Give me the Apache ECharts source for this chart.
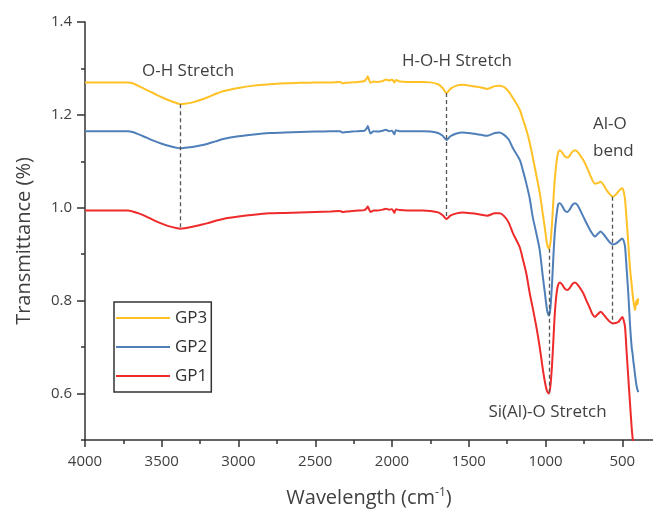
<!DOCTYPE html>
<html>
<head>
<meta charset="utf-8">
<script src="https://cdn.jsdelivr.net/npm/echarts@6/dist/echarts.min.js"></script>
<style>html,body{margin:0;padding:0;background:#fff}#c{width:653px;height:509px}</style>
</head>
<body>
<div id="c"></div>
<script>
// ---- data ----
const wavenumbers = [4000,3900,3800,3720,3690,3650,3600,3550,3500,3450,3400,3380,3350,3300,3250,3200,3150,3100,3000,2900,2800,2700,2600,2500,2400,2340,2320,2300,2260,2220,2180,2165,2158,2150,2140,2120,2100,2060,2040,2020,2000,1985,1975,1950,1900,1800,1750,1700,1670,1645,1620,1580,1540,1480,1420,1380,1330,1300,1270,1240,1212,1168,1147,1125,1103,1084,1060,1038,1017,1004,990,978,968,958,950,940,928,917,906,890,875,858,843,825,808,790,754,732,710,693,678,662,641,622,602,583,563,543,526,508,500,491,482,472,461,450,439,433,428,422,417,411,406,401,396];
const gp3 = [1.270,1.270,1.270,1.270,1.268,1.262,1.254,1.246,1.238,1.231,1.225,1.223,1.224,1.227,1.232,1.238,1.245,1.251,1.258,1.263,1.266,1.268,1.269,1.270,1.270,1.271,1.268,1.269,1.270,1.271,1.273,1.278,1.283,1.276,1.269,1.272,1.271,1.273,1.276,1.274,1.276,1.270,1.275,1.272,1.271,1.271,1.270,1.266,1.258,1.247,1.256,1.263,1.265,1.262,1.259,1.256,1.262,1.263,1.260,1.250,1.236,1.211,1.190,1.168,1.140,1.110,1.070,1.032,0.985,0.955,0.922,0.912,0.925,0.965,1.010,1.060,1.100,1.120,1.124,1.118,1.111,1.108,1.112,1.121,1.124,1.120,1.103,1.088,1.071,1.058,1.052,1.053,1.056,1.049,1.038,1.030,1.024,1.028,1.035,1.041,1.042,1.035,1.017,0.975,0.924,0.870,0.835,0.815,0.800,0.788,0.780,0.795,0.801,0.792,0.805];
const gp2 = [1.165,1.165,1.165,1.165,1.163,1.158,1.151,1.144,1.138,1.133,1.129,1.128,1.129,1.131,1.134,1.138,1.143,1.148,1.154,1.158,1.161,1.162,1.163,1.164,1.165,1.165,1.162,1.163,1.164,1.165,1.166,1.171,1.176,1.168,1.160,1.165,1.164,1.166,1.168,1.165,1.166,1.158,1.167,1.165,1.165,1.165,1.164,1.161,1.155,1.146,1.154,1.160,1.162,1.160,1.157,1.155,1.161,1.162,1.157,1.147,1.128,1.103,1.080,1.052,1.020,0.981,0.945,0.909,0.850,0.816,0.780,0.768,0.785,0.835,0.888,0.945,0.985,1.008,1.010,1.003,0.994,0.991,0.996,1.006,1.010,1.005,0.981,0.966,0.952,0.943,0.938,0.943,0.949,0.943,0.934,0.926,0.921,0.923,0.927,0.932,0.934,0.929,0.916,0.870,0.816,0.750,0.700,0.686,0.670,0.655,0.640,0.625,0.615,0.608,0.603];
const gp1 = [0.994,0.994,0.994,0.994,0.992,0.988,0.981,0.973,0.966,0.960,0.956,0.955,0.956,0.959,0.963,0.967,0.972,0.976,0.981,0.985,0.988,0.989,0.990,0.991,0.992,0.993,0.991,0.992,0.993,0.994,0.995,0.999,1.003,0.997,0.991,0.994,0.994,0.996,0.998,0.996,0.997,0.989,0.997,0.995,0.994,0.994,0.993,0.990,0.984,0.976,0.983,0.988,0.990,0.988,0.985,0.983,0.988,0.988,0.982,0.968,0.945,0.915,0.888,0.858,0.816,0.785,0.744,0.700,0.651,0.625,0.605,0.600,0.617,0.660,0.708,0.770,0.816,0.835,0.839,0.834,0.826,0.823,0.827,0.836,0.839,0.834,0.816,0.799,0.783,0.770,0.765,0.770,0.776,0.770,0.762,0.755,0.751,0.752,0.754,0.762,0.765,0.758,0.743,0.690,0.635,0.580,0.527,0.505,0.490,0.470,0.455,null,null,null,null];
const seriesNames = ['GP3','GP2','GP1'];
const xMajorTicks = [4000,3500,3000,2500,2000,1500,1000,500];
const xMinorTicks = [3750,3250,2750,2250,1750,1250,750];
const yMajorTicks = [0.6,0.8,1.0,1.2,1.4];
const yMinorTicks = [0.5,0.7,0.9,1.1,1.3];
// annotation guides: [wavenumber, top value, bottom value]
const guides = [[3380,1.223,0.955],[1645,1.247,0.976],[978,0.912,0.600],[563,1.024,0.751]];
// annotation labels: [text, wavenumber, value, align]
const notes = [['O-H Stretch',3329,1.2945,'center'],['H-O-H Stretch',1577,1.316,'center'],['Al-O\nbend',691,1.150,'left'],['Si(Al)-O Stretch',987,0.561,'center']];

const FONT = '"Open Sans", sans-serif';
const TXT = '#404040';
const colors = {GP3:'#FFC125', GP2:'#4F7FB8', GP1:'#EE2A2A'};
const values = {GP3:gp3, GP2:gp2, GP1:gp1};

const chart = echarts.init(document.getElementById('c'), null, {renderer:'canvas'});
const lineSeries = ['GP1','GP2','GP3'].map(n => ({
  name: n, type: 'line', xAxisIndex: 0, yAxisIndex: 0,
  data: wavenumbers.map((w,i) => [w, values[n][i]]),
  showSymbol: false, symbol: 'none', smooth: 0.25, connectNulls: false,
  lineStyle: {color: colors[n], width: 2}, itemStyle: {color: colors[n]},
  clip: true, z: 3
}));
const annot = {
  name: 'annot', type: 'line', data: [], xAxisIndex: 0, yAxisIndex: 0, silent: true,
  markLine: {
    silent: true, symbol: ['none','none'], label: {show: false},
    lineStyle: {type: [4,3], color: '#555', width: 1.3},
    data: guides.map(g => [{coord: [g[0], g[1]]}, {coord: [g[0], g[2]]}])
  },
  markPoint: {
    silent: true, symbol: 'circle', symbolSize: 1, itemStyle: {color: 'rgba(0,0,0,0)'},
    data: notes.map(n => ({coord: [n[1], n[2]], label: {show: true, position: 'inside', formatter: n[0], align: n[3], verticalAlign: 'middle', color: TXT, fontFamily: FONT, fontSize: 17, lineHeight: 27}}))
  }
};

chart.setOption({
  animation: false,
  color: ['#EE2A2A','#4F7FB8','#FFC125'],
  grid: {left: 85, right: 0, top: 22, bottom: 69, containLabel: false, outerBoundsMode: 'none'},
  legend: {
    data: seriesNames, orient: 'vertical', left: 114, top: 302,
    borderColor: '#333', borderWidth: 1.5, padding: [6,4,6,2],
    itemWidth: 54, itemHeight: 14, itemGap: 9, icon: 'path://M0,6 L54,6 L54,8 L0,8 Z',
    textStyle: {fontFamily: FONT, fontSize: 17, color: '#303030', lineHeight: 20}
  },
  xAxis: [{
    type: 'value', inverse: true, min: 300, max: 4000, position: 'bottom',
    name: '{a|Wavelength (cm}{s|-1}{a|)}', nameLocation: 'middle', nameGap: 44,
    nameTextStyle: {rich: {a: {fontFamily: FONT, fontSize: 20, color: TXT, lineHeight: 28}, s: {fontFamily: FONT, fontSize: 12, color: TXT, lineHeight: 28, padding: [0,0,10,0]}}},
    axisLine: {show: true, lineStyle: {color: '#333', width: 1.5}},
    axisTick: {show: true, customValues: xMajorTicks, length: 7, lineStyle: {color: '#333', width: 1.5}},
    axisLabel: {customValues: xMajorTicks, margin: 14, fontFamily: FONT, fontSize: 15, color: TXT, formatter: v => String(v)},
    splitLine: {show: false}
  }, {
    type: 'value', inverse: true, min: 300, max: 4000, position: 'bottom',
    axisLine: {show: false},
    axisTick: {show: true, customValues: xMinorTicks, length: 4, lineStyle: {color: '#333', width: 1.5}},
    axisLabel: {show: false}, splitLine: {show: false}
  }],
  yAxis: [{
    type: 'value', min: 0.5, max: 1.4, position: 'left',
    name: 'Transmittance (%)', nameLocation: 'middle', nameGap: 51,
    nameTextStyle: {fontFamily: FONT, fontSize: 20, color: TXT, padding: [0, 20, 0, 0]},
    axisLine: {show: true, lineStyle: {color: '#333', width: 1.5}},
    axisTick: {show: true, customValues: yMajorTicks, length: 8, lineStyle: {color: '#333', width: 1.5}},
    axisLabel: {customValues: yMajorTicks, margin: 13, fontFamily: FONT, fontSize: 15, color: TXT, formatter: v => v.toFixed(1)},
    splitLine: {show: false}
  }, {
    type: 'value', min: 0.5, max: 1.4, position: 'left',
    axisLine: {show: false},
    axisTick: {show: true, customValues: yMinorTicks, length: 4, lineStyle: {color: '#333', width: 1.5}},
    axisLabel: {show: false}, splitLine: {show: false}
  }],
  series: [...lineSeries, annot]
});
</script>
</body>
</html>
